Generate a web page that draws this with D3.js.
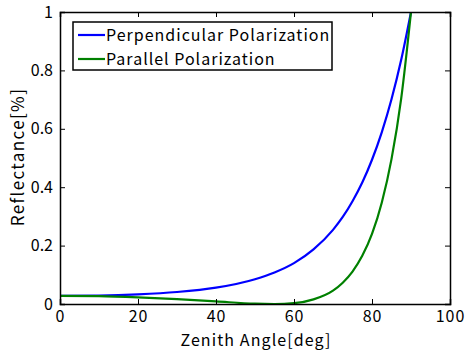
<!DOCTYPE html>
<html>
<head>
  <meta charset="utf-8">
  <title>Reflectance vs Zenith Angle</title>
  <script src="https://d3js.org/d3.v7.min.js"></script>
  <style>
    body { margin: 0; background: #fff; }
    svg text { font-family: "Noto Sans CJK JP", "DejaVu Sans", sans-serif; fill: #000; }
  </style>
</head>
<body>
  <div id="chart"></div>
  <script>
    // angles in degrees
    var angles = [0, 10, 20, 30, 40, 50, 55, 60, 65, 70, 72.5, 75, 77.5, 80, 82.5, 85, 87.5, 90];
    var perpendicular = [0.028, 0.029, 0.033, 0.041, 0.056, 0.085, 0.108, 0.140, 0.187, 0.254, 0.298, 0.352, 0.416, 0.494, 0.588, 0.701, 0.837, 1.0];
    var parallel = [0.028, 0.027, 0.023, 0.017, 0.009, 0.001, 0.0, 0.003, 0.016, 0.046, 0.073, 0.111, 0.165, 0.240, 0.347, 0.496, 0.705, 1.0];
    var xTicks = [0, 20, 40, 60, 80, 100];
    var yTicks = [0, 0.2, 0.4, 0.6, 0.8, 1];
    var seriesNames = ["Perpendicular Polarization", "Parallel Polarization"];
    var colors = ["#0000ff", "#008000"];

    var width = 466, height = 353;
    var margin = { left: 60, right: 16, top: 12, bottom: 49 };
    var plotW = width - margin.left - margin.right;
    var plotH = height - margin.top - margin.bottom;

    var svg = d3.select("#chart").append("svg")
      .attr("width", width)
      .attr("height", height);

    var g = svg.append("g").attr("transform", "translate(" + margin.left + "," + margin.top + ")");

    var x = d3.scaleLinear().domain([0, 100]).range([0, plotW]);
    var y = d3.scaleLinear().domain([0, 1]).range([plotH, 0]);

    // clip so curves stay inside the box
    svg.append("defs").append("clipPath").attr("id", "clip")
      .append("rect").attr("width", plotW).attr("height", plotH);

    var line = d3.line()
      .x(function(d) { return x(d[0]); })
      .y(function(d) { return y(d[1]); })
      .curve(d3.curveMonotoneX);

    var series = [perpendicular, parallel];
    g.append("g").attr("clip-path", "url(#clip)")
      .selectAll("path")
      .data(series)
      .enter()
      .append("path")
      .attr("d", function(s) { return line(angles.map(function(a, i) { return [a, s[i]]; })); })
      .attr("fill", "none")
      .attr("stroke", function(d, i) { return colors[i]; })
      .attr("stroke-width", 2.2);

    // axes: ticks point inward, mirrored on top and right
    var tickLen = 5;
    var xAxis = g.append("g").attr("transform", "translate(0," + plotH + ")")
      .call(d3.axisBottom(x).tickValues(xTicks).tickSize(-tickLen).tickPadding(7).tickFormat(d3.format("d")));
    var xTop = g.append("g")
      .call(d3.axisTop(x).tickValues(xTicks).tickSize(-tickLen).tickFormat(""));
    var yAxis = g.append("g")
      .call(d3.axisLeft(y).tickValues(yTicks).tickSize(-tickLen).tickPadding(7).tickFormat(function(d) { return d === 0 || d === 1 ? d : d3.format(".1f")(d); }));
    var yRight = g.append("g").attr("transform", "translate(" + plotW + ",0)")
      .call(d3.axisRight(y).tickValues(yTicks).tickSize(-tickLen).tickFormat(""));

    [xAxis, xTop, yAxis, yRight].forEach(function(a) {
      a.select(".domain").attr("stroke", "#000").attr("stroke-width", 1.5);
      a.selectAll(".tick line").attr("stroke", "#000").attr("stroke-width", 1);
      a.selectAll(".tick text").attr("font-size", 16).attr("font-family", null);
    });
    xAxis.selectAll(".tick text").attr("letter-spacing", 1);

    // axis labels
    svg.append("text")
      .attr("x", margin.left + plotW / 2 + 1)
      .attr("y", 346)
      .attr("text-anchor", "middle")
      .attr("font-size", 16)
      .attr("letter-spacing", 1.1)
      .text("Zenith Angle[deg]");

    svg.append("text")
      .attr("transform", "translate(24," + (margin.top + plotH / 2 - 1) + ") rotate(-90)")
      .attr("text-anchor", "middle")
      .attr("font-size", 17)
      .attr("letter-spacing", 1.4)
      .text("Reflectance[%]");

    // legend
    var legend = g.append("g").attr("transform", "translate(13,10)");
    legend.append("rect")
      .attr("width", 259).attr("height", 48)
      .attr("fill", "#fff").attr("stroke", "#000").attr("stroke-width", 1.5);
    seriesNames.forEach(function(name, i) {
      var row = legend.append("g").attr("transform", "translate(0," + (13 + i * 24) + ")");
      row.append("line").attr("x1", 5).attr("x2", 32).attr("y1", 0).attr("y2", 0)
        .attr("stroke", colors[i]).attr("stroke-width", 2.2);
      row.append("text").attr("x", 33).attr("y", 6).attr("font-size", 16)
        .attr("letter-spacing", 1).text(name);
    });
  </script>
</body>
</html>
